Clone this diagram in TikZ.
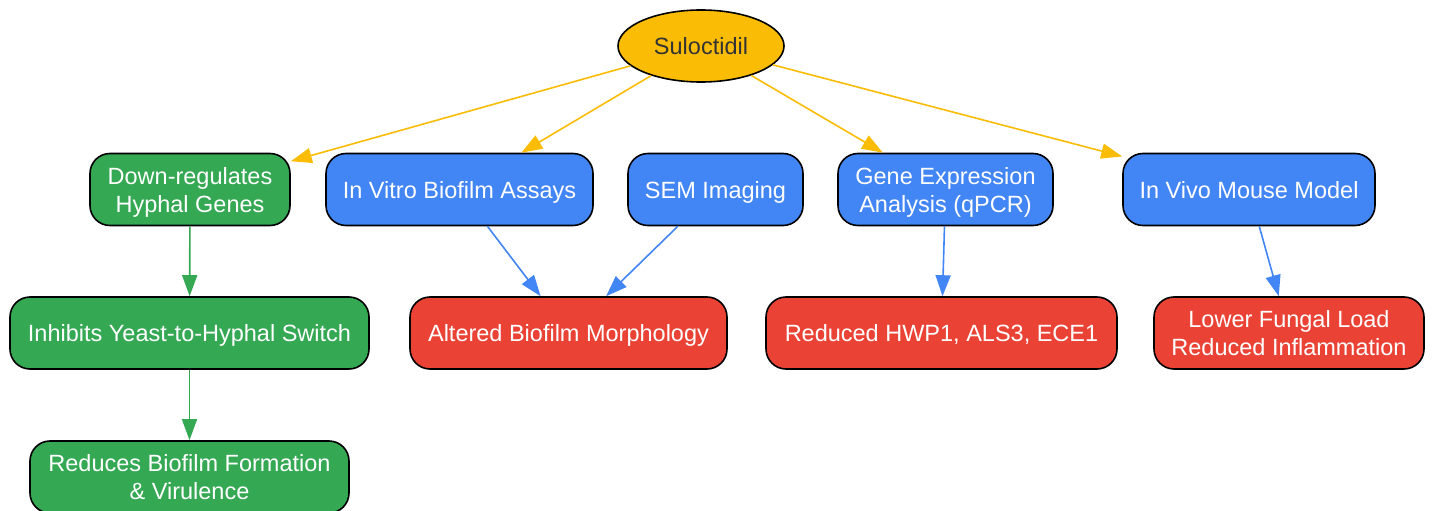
\documentclass[tikz,border=0pt]{standalone}
\usepackage{fontspec}
\setmainfont{Liberation Sans}
\usetikzlibrary{shapes.geometric,arrows.meta}
\definecolor{cgold}{HTML}{FBBC05}
\definecolor{cgreen}{HTML}{34A853}
\definecolor{cblue}{HTML}{4285F4}
\definecolor{cred}{HTML}{EA4335}
\definecolor{ctext}{HTML}{333333}
\newcommand\lowtext[1]{\raisebox{-3.2pt}[\height][\depth]{\begin{tabular}{@{}c@{}}#1\end{tabular}}}
\tikzset{
  box/.style={draw=black, line width=1.6pt, rounded corners=20pt, text=white,
    inner sep=0pt, minimum height=72pt,
    font=\fontsize{23.5}{28}\selectfont},
  gbox/.style={box, fill=cgreen},
  bbox/.style={box, fill=cblue},
  rbox/.style={box, fill=cred},
  edge/.style={line width=1.6pt, -{Triangle[length=21pt,width=15pt]}},
}
\begin{document}
\begin{tikzpicture}[x=1pt,y=-1pt]
\useasboundingbox (0,0) rectangle (1433,511);
\node[ellipse, draw=black, line width=1.6pt, fill=cgold, text=ctext,
  minimum width=166pt, minimum height=72pt, inner sep=0pt,
  font=\fontsize{23.5}{28}\selectfont] (s) at (701,46) {Suloctidil};
\node[gbox, minimum width=200pt] (down) at (190,189.5) {\lowtext{Down-regulates\\Hyphal Genes}};
\node[bbox, minimum width=267pt] (vitro) at (459.5,189.5) {\lowtext{In Vitro Biofilm Assays}};
\node[bbox, minimum width=175pt] (sem) at (715.5,189.5) {\lowtext{SEM Imaging}};
\node[bbox, minimum width=215pt] (gene) at (945.5,189.5) {\lowtext{Gene Expression\\Analysis (qPCR)}};
\node[bbox, minimum width=252pt] (vivo) at (1249,189.5) {\lowtext{In Vivo Mouse Model}};
\node[gbox, minimum width=359pt] (inhib) at (189.5,333) {\lowtext{Inhibits Yeast-to-Hyphal Switch}};
\node[rbox, minimum width=317pt] (alt) at (568.5,333) {\lowtext{Altered Biofilm Morphology}};
\node[rbox, minimum width=351pt] (red) at (941.5,333) {\lowtext{Reduced HWP1, ALS3, ECE1}};
\node[rbox, minimum width=270pt] (low) at (1289,333) {\lowtext{Lower Fungal Load\\Reduced Inflammation}};
\node[gbox, minimum width=319pt] (redu) at (189.5,477) {\lowtext{Reduces Biofilm Formation\\\& Virulence}};
\draw[edge, cgold] (s) -- (down);
\draw[edge, cgold] (s) -- (vitro);
\draw[edge, cgold] (s) -- (gene);
\draw[edge, cgold] (s) -- (vivo);
\draw[edge, cgreen] (down) -- (inhib);
\draw[edge, cgreen] (inhib) -- (redu);
\draw[edge, cblue] (vitro) -- (alt);
\draw[edge, cblue] (sem) -- (alt);
\draw[edge, cblue] (gene) -- (red);
\draw[edge, cblue] (vivo) -- (low);
\end{tikzpicture}
\end{document}
